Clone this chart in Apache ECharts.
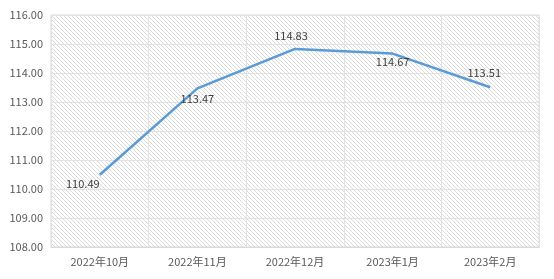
<!DOCTYPE html>
<html><head><meta charset="utf-8">
<script src="https://cdn.jsdelivr.net/npm/echarts@6/dist/echarts.min.js"></script>
<style>html,body{margin:0;padding:0;background:#fff}#c{width:554px;height:279px}</style>
</head><body><div id="c"></div>
<script>
const categories = ['2022年10月','2022年11月','2022年12月','2023年1月','2023年2月'];
const values = [110.49, 113.47, 114.83, 114.67, 113.51];
const labelPos = ['bottom','bottom','top','bottom','top'];
const labelOffset = [[-17,-2],[0,-1],[-4,-2],[0,-3],[-6,-3]];

const pc = document.createElement('canvas');
pc.width = 4; pc.height = 4;
const ctx = pc.getContext('2d');
ctx.fillStyle = '#dadada';
for (let i = 0; i < 4; i++) ctx.fillRect(i, i, 1, 1);

const font = '"Noto Sans CJK SC", "Microsoft YaHei", sans-serif';
const chart = echarts.init(document.getElementById('c'));
chart.setOption({
  animation: false,
  grid: {left: 51, right: 15, top: 15, bottom: 32, show: true,
    backgroundColor: {image: pc, repeat: 'repeat'}, borderColor: '#d9d9d9', borderWidth: 1},
  xAxis: {type: 'category', data: categories, boundaryGap: true,
    axisLine: {show: true, lineStyle: {color: '#d9d9d9'}},
    axisTick: {show: false},
    splitLine: {show: true, lineStyle: {color: '#e3e3e3', width: 1}},
    axisLabel: {color: '#595959', fontSize: 11, fontFamily: font, margin: 9}},
  yAxis: {type: 'value', min: 108, max: 116, interval: 1,
    axisLine: {show: false}, axisTick: {show: false},
    splitLine: {lineStyle: {color: '#e3e3e3', width: 1}},
    axisLabel: {color: '#595959', fontSize: 11, fontFamily: font, margin: 8,
      formatter: v => v.toFixed(2)}},
  series: [{type: 'line', showSymbol: true, symbol: 'circle', symbolSize: 2,
    itemStyle: {color: 'rgba(0,0,0,0)', borderWidth: 0},
    data: values.map((v, i) => ({value: v, label: {show: true, position: labelPos[i], offset: labelOffset[i]}})),
    lineStyle: {color: '#5b9bd5', width: 2.5},
    label: {show: true, color: '#404040', fontSize: 11, fontFamily: font,
      formatter: p => p.value.toFixed(2)}}]
});
</script></body></html>
